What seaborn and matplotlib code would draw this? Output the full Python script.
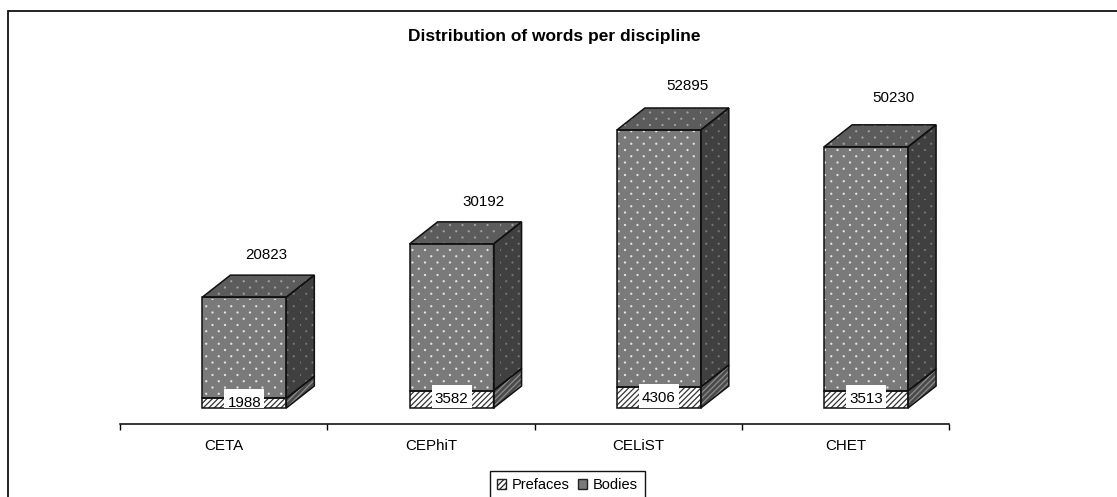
import numpy as np
import pandas as pd
import matplotlib
matplotlib.use("Agg")
import matplotlib.pyplot as plt
import matplotlib.hatch as mhatch
from matplotlib.path import Path
from matplotlib.patches import Patch, Polygon, Rectangle
import seaborn as sns

categories = ["CETA", "CEPhiT", "CELiST", "CHET"]
prefaces = [1988, 3582, 4306, 3513]
bodies = [20823, 30192, 52895, 50230]

W, H = 1117, 497
PX_PER_WORD = 0.00486   # vertical scale
PX_PER_CAT = 207.25
FONT = 10.9

# where the totals sit relative to the top of each bar, in pixels
label_offsets = [(22, 42), (32, 42), (29, 44), (27, 49)]


# the stock '.' hatch has equal row and column spacing, the chart has rows twice as tight
class Stipple(mhatch.HatchPatternBase):
    rows, cols = 16, 8
    radius = 0.005

    def __init__(self, hatch, density):
        self.on = "." in hatch
        self.circle = Path.unit_circle()
        self.num_vertices = len(self.circle.vertices) * self.rows * self.cols if self.on else 0

    def set_vertices_and_codes(self, vertices, codes):
        n = len(self.circle.vertices)
        i = 0
        for r in range(self.rows):
            for c in range(self.cols):
                x = (c + 0.5 * (r % 2)) / self.cols
                y = r / self.rows
                vertices[i:i + n] = self.circle.vertices * self.radius + [x, y]
                codes[i:i + n] = self.circle.codes
                i += n


mhatch._hatch_types = [t for t in mhatch._hatch_types if t is not mhatch.SmallFilledCircles] + [Stipple]

sns.set_theme(style="white")
plt.rcParams["font.family"] = ["Liberation Sans", "DejaVu Sans"]
plt.rcParams["hatch.linewidth"] = 0.9

df = pd.DataFrame({"discipline": categories, "prefaces": prefaces, "bodies": bodies})

fig = plt.figure(figsize=(W / 100, H / 100), dpi=100)
ax = fig.add_axes([120 / W, (H - 424) / H, 829 / W, 384 / H])

sns.barplot(data=df, x="discipline", y="prefaces", width=0.405, color="white",
            saturation=1, edgecolor="#333333", linewidth=0, hatch="//////", ax=ax)
n_pref = len(ax.patches)
sns.barplot(data=df, x="discipline", y="bodies", bottom=prefaces, width=0.405, color="#7a7a7a",
            saturation=1, edgecolor="#e4e4e4", linewidth=0, hatch=".", ax=ax)

ax.set_xlim(-0.5, 3.5)
ax.set_ylim(-16 / PX_PER_WORD, 368 / PX_PER_WORD)

dx = 28 / PX_PER_CAT
dy = 22 / PX_PER_WORD


def face(pts, fc, dots, hatch):
    ax.add_patch(Polygon(pts, closed=True, facecolor=fc, edgecolor=dots, hatch=hatch, linewidth=0, zorder=3))
    ax.add_patch(Polygon(pts, closed=True, fill=False, edgecolor="#111111", linewidth=1.1, zorder=4))


bars = list(ax.patches)
for i in range(len(categories)):
    low, up = bars[i], bars[i + n_pref]
    for b in (low, up):
        b.set_x(b.get_x() + 0.1)   # bars sit right of the category centre
        b.set_zorder(3)
    x0, x1 = up.get_x(), up.get_x() + up.get_width()
    y1 = low.get_height()
    y2 = y1 + up.get_height()

    for b in (low, up):
        ax.add_patch(Rectangle((b.get_x(), b.get_y()), b.get_width(), b.get_height(), fill=False,
                               edgecolor="#111111", linewidth=1.1, zorder=4))

    face([(x0, y2), (x0 + dx, y2 + dy), (x1 + dx, y2 + dy), (x1, y2)], "#5c5c5c", "#a0a0a0", ".")
    face([(x1, y1), (x1 + dx, y1 + dy), (x1 + dx, y2 + dy), (x1, y2)], "#404040", "#747474", ".")
    face([(x1, 0), (x1 + dx, dy), (x1 + dx, y1 + dy), (x1, y1)], "#4a4a4a", "#8c8c8c", "//////")

    # value labels
    xc = (x0 + x1) / 2
    ax.add_patch(Rectangle((xc - 20 / PX_PER_CAT, 0), 40 / PX_PER_CAT, y1 / 2 + 14 / PX_PER_WORD,
                           facecolor="white", edgecolor="none", zorder=5))
    ax.text(xc, y1 / 2, str(prefaces[i]), ha="center", va="center", fontsize=FONT, color="black", zorder=6)
    ax.annotate(str(bodies[i]), (xc, y2), xytext=label_offsets[i], textcoords="offset pixels",
                ha="center", va="center", fontsize=FONT, color="black", zorder=6)

sns.despine(ax=ax, left=True)
ax.spines["bottom"].set_color("black")
ax.spines["bottom"].set_linewidth(1.1)
ax.set_xlabel("")
ax.set_ylabel("")
ax.set_yticks([])
ax.set_xticks(range(len(categories)))
ax.set_xticklabels(categories, fontsize=FONT, color="black")
ax.set_xticks(np.arange(-0.5, 4), minor=True)
ax.tick_params(axis="x", which="major", length=0, pad=11)
ax.tick_params(axis="x", which="minor", bottom=True, length=4.5, width=1, color="black")

fig.suptitle("Distribution of words per discipline", x=554 / W, y=1 - 36 / H, va="center",
             fontsize=12.5, fontweight="bold", color="black")

# chart frame, runs off the bottom of the picture
fig.add_artist(Rectangle((8 / W, -0.05), 1500 / W, (H - 11) / H + 0.05, fill=False, edgecolor="#111111",
                         linewidth=1.3, transform=fig.transFigure))

handles = [Patch(facecolor="white", edgecolor="#222222", hatch="//////", label="Prefaces"),
           Patch(facecolor="#7a7a7a", edgecolor="#222222", label="Bodies")]
leg = fig.legend(handles=handles, ncol=2, loc="upper left", bbox_to_anchor=(490 / W, 1 - 471 / H),
                 borderaxespad=0, frameon=True, fancybox=False, fontsize=10.5, handlelength=0.62,
                 handleheight=0.62, handletextpad=0.4, columnspacing=0.55, borderpad=0.48, labelcolor="black")
leg.get_frame().set_edgecolor("#111111")
leg.get_frame().set_linewidth(1)
leg.get_frame().set_alpha(1)

fig.savefig("out.png", dpi=100)
